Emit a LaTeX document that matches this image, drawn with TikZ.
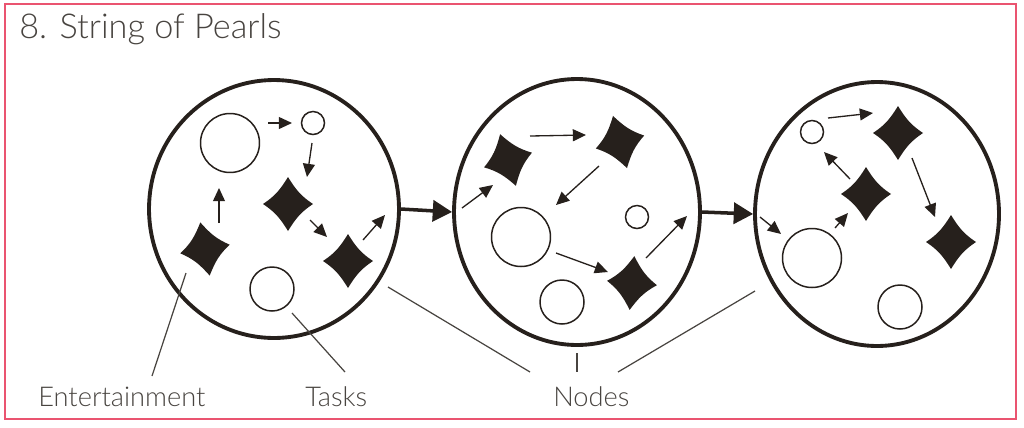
\documentclass[tikz,border=0pt]{standalone}
\usepackage{fontspec}
\setmainfont{Lato Light}
\usetikzlibrary{arrows.meta,shapes.geometric}
\definecolor{ink}{RGB}{38,32,28}
\definecolor{framered}{RGB}{234,84,112}
\definecolor{type}{RGB}{72,68,64}
\begin{document}
\begin{tikzpicture}[x=0.02cm,y=-0.02cm,
	pearl/.style={ ellipse, draw=ink, line width=2.2pt, inner sep=0pt },
	ring/.style={ circle, draw=ink, line width=0.85pt, inner sep=0pt, minimum size=1.18cm },
	ringm/.style={ ring, minimum size=0.88cm },
	rings/.style={ ring, minimum size=0.46cm },
	chip/.pic={ \fill[ink] (0,27) .. controls (8,14) and (13,8) .. (25,0) .. controls (13,-8) and (8,-14) .. (0,-27) .. controls (-8,-14) and (-13,-8) .. (-25,0) .. controls (-13,8) and (-8,14) .. (0,27) -- cycle; \coordinate (-c) at (0,0); },
	arr/.style={ draw=ink, line width=0.75pt, -{Triangle[length=7.5pt,width=6.8pt]} },
	link/.style={ draw=ink, line width=2pt, -{Triangle[length=11pt,width=12pt]} },
	lead/.style={ draw=type, line width=0.7pt },
	tag/.style={ text=type, font=\fontsize{15.5}{18}\selectfont, anchor=base west, inner sep=0pt }
]
\useasboundingbox (0,0) rectangle (1024,427);
\draw[framered, line width=1.2pt] (5,4) rectangle (1016,419);

\node at (19,38) (title) [tag, font=\fontsize{19.5}{22}\selectfont] {8. String of Pearls};

% the three pearls
\node at (274,209) (n1) [pearl, minimum width=5cm, minimum height=5.16cm] {};
\node at (577,212) (n2) [pearl, minimum width=4.92cm, minimum height=5.32cm] {};
\node at (877,214) (n3) [pearl, minimum width=4.88cm, minimum height=5.28cm] {};
\draw[link] (n1.east) -- (n2.west);
\draw[link] (n2.east) -- (n3.west);

% first pearl
\node at (230,143) (t11) [ring] {};
\node at (313,123) (t12) [rings] {};
\node at (272,289) (t13) [ringm] {};
\pic (e11) [rotate=10] at (205,249) {chip};
\pic (e12) at (288,204) {chip};
\pic (e13) at (348,261) {chip};
\coordinate (a1) at (268,123); \coordinate (b1) at (292,123);
\draw[arr] (a1) -- (b1);
\coordinate (a2) at (312,143); \coordinate (b2) at (307,177);
\draw[arr] (a2) -- (b2);
\coordinate (a3) at (310,220); \coordinate (b3) at (327,237);
\draw[arr] (a3) -- (b3);
\coordinate (a4) at (363,240); \coordinate (b4) at (385,215);
\draw[arr] (a4) -- (b4);
\coordinate (a5) at (219,223); \coordinate (b5) at (219,188);
\draw[arr] (a5) -- (b5);

% second pearl
\node at (521,237) (t21) [ring] {};
\node at (637,217) (t22) [rings] {};
\node at (562,302) (t23) [ringm] {};
\pic (e21) [rotate=17] at (508,160) {chip};
\pic (e22) [rotate=15] at (620,142) {chip};
\pic (e23) [rotate=-5] at (632,283) {chip};
\coordinate (a6) at (462,208); \coordinate (b6) at (493,185);
\draw[arr] (a6) -- (b6);
\coordinate (a7) at (530,136); \coordinate (b7) at (586,135);
\draw[arr] (a7) -- (b7);
\coordinate (a8) at (599,166); \coordinate (b8) at (556,205);
\draw[arr] (a8) -- (b8);
\coordinate (a9) at (556,253); \coordinate (b9) at (608,272);
\draw[arr] (a9) -- (b9);
\coordinate (a10) at (646,258); \coordinate (b10) at (687,216);
\draw[arr] (a10) -- (b10);

% third pearl
\node at (812,258) (t31) [ring] {};
\node at (812,132) (t32) [rings] {};
\node at (900,307) (t33) [ringm] {};
\pic (e31) at (866,194) {chip};
\pic (e32) at (898,133) {chip};
\pic (e33) at (951,242) {chip};
\coordinate (a11) at (760,217); \coordinate (b11) at (781,234);
\draw[arr] (a11) -- (b11);
\coordinate (a12) at (835,228); \coordinate (b12) at (848,213);
\draw[arr] (a12) -- (b12);
\coordinate (a13) at (850,179); \coordinate (b13) at (824,152);
\draw[arr] (a13) -- (b13);
\coordinate (a14) at (828,118); \coordinate (b14) at (873,113);
\draw[arr] (a14) -- (b14);
\coordinate (a15) at (912,158); \coordinate (b15) at (935,217);
\draw[arr] (a15) -- (b15);

% labels
\node at (38,406) (ent) [tag] {Entertainment};
\node at (305,406) (tsk) [tag] {Tasks};
\node at (553,406) (nds) [tag] {Nodes};
\coordinate (p1) at (186,273); \coordinate (q1) at (152,376);
\draw[lead] (p1) -- (q1);
\coordinate (p2) at (292,313); \coordinate (q2) at (345,372);
\draw[lead] (p2) -- (q2);
\coordinate (p3) at (388,287); \coordinate (q3) at (530,372);
\draw[lead] (p3) -- (q3);
\coordinate (p4) at (577,353); \coordinate (q4) at (577,372);
\draw[lead] (p4) -- (q4);
\coordinate (p5) at (755,291); \coordinate (q5) at (618,372);
\draw[lead] (p5) -- (q5);

\end{tikzpicture}
\end{document}
